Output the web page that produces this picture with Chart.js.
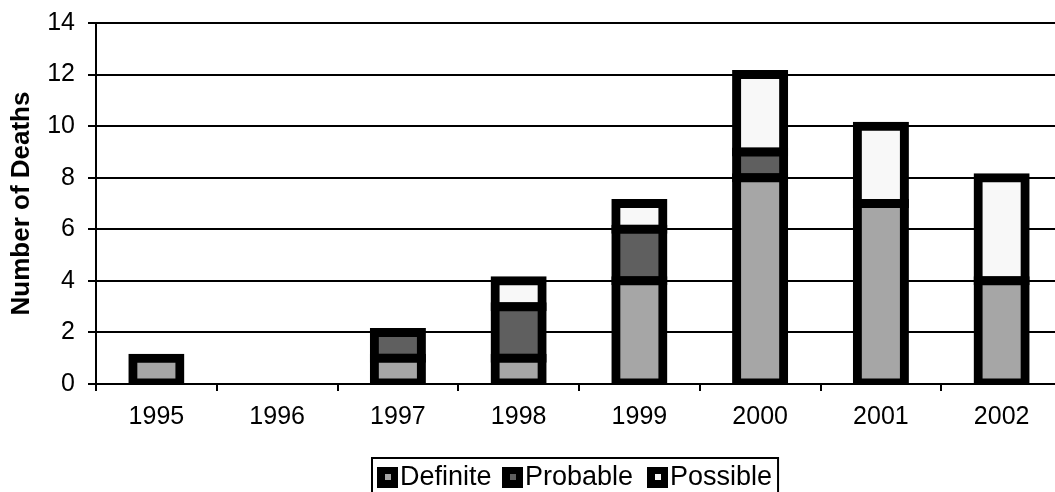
<!DOCTYPE html>
<html><head><meta charset="utf-8">
<script src="https://cdn.jsdelivr.net/npm/chart.js@4/dist/chart.umd.min.js"></script>
<style>
html,body{margin:0;padding:0;background:#fff;overflow:hidden;}
#wrap{position:relative;width:1062px;height:492px;}
</style></head>
<body>
<div id="wrap"><canvas id="c"></canvas></div>
<script>
const categories = ['1995','1996','1997','1998','1999','2000','2001','2002'];
const definite = [1, 0, 1, 1, 4, 8, 7, 4];
const probable = [0, 0, 1, 2, 2, 1, 0, 0];
const possible = [0, 0, 0, 1, 1, 3, 3, 4];
const seriesNames = ['Definite', 'Probable', 'Possible'];
const seriesColors = ['#a6a6a6', '#5f5f5f', '#f8f8f8'];
const yTicks = [0, 2, 4, 6, 8, 10, 12, 14];

const FONT = '"Liberation Sans", Arial, sans-serif';
const toNull = a => a.map(v => v === 0 ? null : v);
const seriesData = [definite, probable, possible];

const datasets = seriesData.map((d, i) => ({
  label: seriesNames[i],
  data: toNull(d),
  backgroundColor: seriesColors[i],
  borderColor: '#000',
  borderWidth: 9,
  inflateAmount: 4.5,
  borderSkipped: false,
  categoryPercentage: 1,
  barPercentage: 0.39
}));

const legendMarkerX = [377, 502, 647];
const legendPlugin = {
  id: 'customLegend',
  afterDraw(chart) {
    const ctx = chart.ctx;
    ctx.save();
    ctx.font = '27px ' + FONT;
    ctx.textBaseline = 'middle';
    ctx.textAlign = 'left';
    const top = 458, cy = 477;
    let right = 0;
    seriesNames.forEach((name, i) => {
      const x = legendMarkerX[i];
      ctx.fillStyle = '#000';
      ctx.fillRect(x, cy - 10, 21, 21);
      ctx.fillStyle = seriesColors[i];
      ctx.fillRect(x + 8, cy - 3, 6, 6);
      ctx.fillStyle = '#000';
      ctx.fillText(name, x + 23, cy + 1);
      right = x + 23 + ctx.measureText(name).width;
    });
    right += 6;
    ctx.strokeStyle = '#000';
    ctx.lineWidth = 2;
    ctx.beginPath();
    ctx.moveTo(372, 500);
    ctx.lineTo(372, top);
    ctx.lineTo(right, top);
    ctx.lineTo(right, 500);
    ctx.stroke();
    ctx.restore();
  }
};

new Chart(document.getElementById('c'), {
  type: 'bar',
  data: { labels: categories, datasets },
  options: {
    responsive: true,
    maintainAspectRatio: false,
    animation: false,
    layout: { padding: { top: 23, right: 0, bottom: 0, left: 0 } },
    plugins: { legend: { display: false }, tooltip: { enabled: false } },
    scales: {
      x: {
        stacked: true,
        grid: { drawOnChartArea: false, drawTicks: true, tickLength: 7, color: '#000', lineWidth: 2, offset: true },
        border: { color: '#000', width: 2 },
        ticks: { color: '#000', font: { family: FONT, size: 25 }, padding: 11, maxRotation: 0 },
        afterFit(s) { s.height = 108; }
      },
      y: {
        stacked: true,
        min: 0, max: 14,
        afterBuildTicks(s) { s.ticks = yTicks.map(v => ({ value: v })); },
        grid: { color: '#000', lineWidth: 2, drawTicks: true, tickLength: 8 },
        border: { color: '#000', width: 2 },
        ticks: { color: '#000', font: { family: FONT, size: 25, lineHeight: 0.8 }, padding: 13 },
        title: { display: true, text: 'Number of Deaths', color: '#000', font: { family: FONT, size: 26, weight: 'bold' }, padding: { top: 6, bottom: 0 } },
        afterFit(s) { s.width = 96; }
      }
    }
  },
  plugins: [legendPlugin]
});
</script>
</body></html>
